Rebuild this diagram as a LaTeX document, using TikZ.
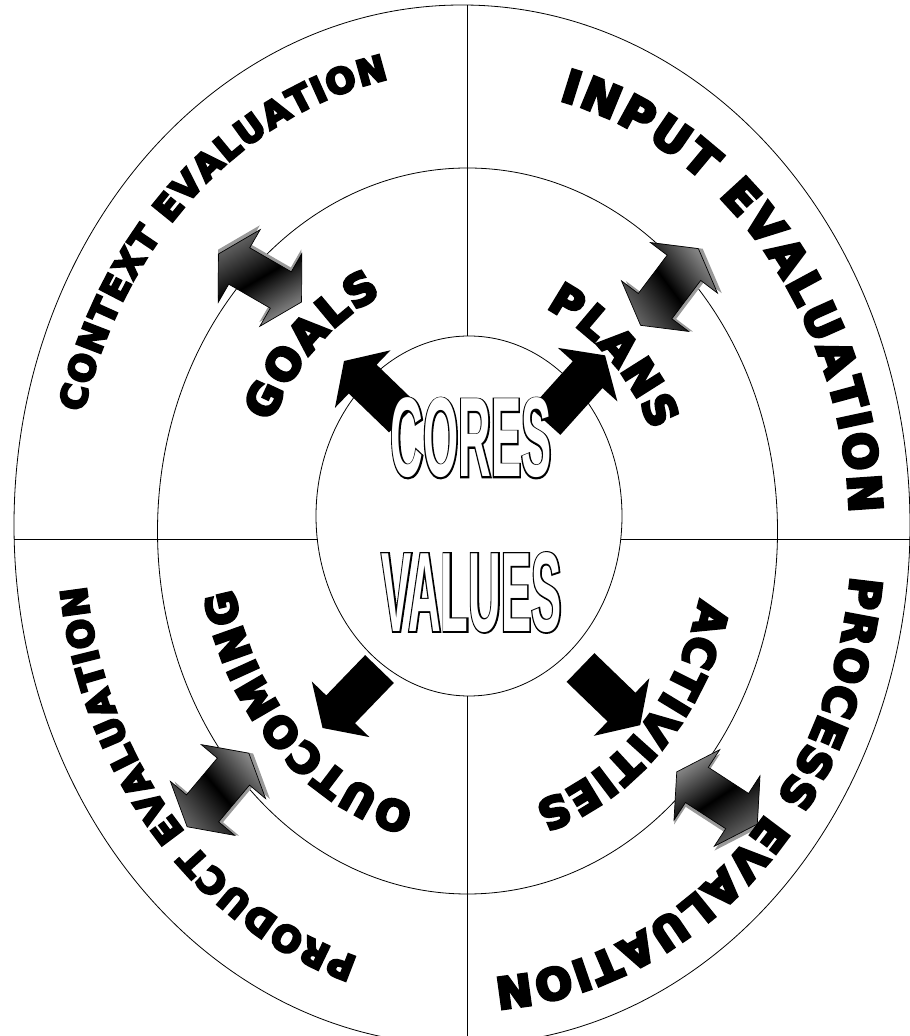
\documentclass[tikz,border=0pt]{standalone}
\usepackage{fontspec}
\usetikzlibrary{decorations.text}
\newfontfamily\ringfont{DejaVu Sans Bold}[FakeBold=7]
\newfontfamily\corefont{Liberation Sans Bold}[FakeStretch=0.4]
\newfontfamily\corerimfont{Liberation Sans Bold}[FakeStretch=0.4, FakeBold=2.5]
\newcommand\arcfont[1]{\ringfont\fontsize{#1}{#1}\selectfont}
\newcommand\contextsize{\arcfont{35}}
\newcommand\inputsize{\arcfont{45}}
\newcommand\processsize{\arcfont{43}}
\newcommand\productsize{\arcfont{35.5}}
\newcommand\goalsize{\arcfont{43}}
\newcommand\plansize{\arcfont{42.5}}
\newcommand\outsize{\arcfont{41}}
\newcommand\actsize{\arcfont{42}}

\begin{document}
\begin{tikzpicture}[x=1pt, y=1pt]
  \tikzset{
    ring/.style={draw=black, line width=0.8pt},
    divider/.style={draw=black, line width=0.8pt},
    blockarrow/.style={fill=black},
    twinarrow/.style={draw=black, line width=0.7pt, top color=black!45, bottom color=black!60, middle color=black},
    twinshadow/.style={fill=black!40},
    arctext/.style={decorate, decoration={text along path, text align=fit to path, text={#1}}},
    coretext/.style={font=\corefont\fontsize{113}{113}\selectfont, inner sep=0pt},
    corerim/.style={font=\corerimfont\fontsize{113}{113}\selectfont, inner sep=0pt}
  }
  \useasboundingbox (0,0) rectangle (910,1036);
  \fill[white] (0,0) rectangle (910,1036);

  \coordinate (mid) at (467,506);

  \draw[ring] (469,520) ellipse [x radius=153, y radius=180];
  \draw[ring] (467.5,505) ellipse [x radius=310, y radius=363];
  \begin{scope}
    \clip (0,0) rectangle (910,1036);
    \draw[ring] (462,511) ellipse [x radius=448, y radius=520];
  \end{scope}

  \coordinate (outN) at (467,1031);
  \coordinate (inN) at (467,700);
  \coordinate (inS) at (467,340);
  \coordinate (outS) at (467,0);
  \coordinate (outW) at (14,497);
  \coordinate (inW) at (318,497);
  \coordinate (inE) at (621,497);
  \coordinate (outE) at (910,497);
  \draw[divider] (outN) -- (inN);
  \draw[divider] (inS) -- (outS);
  \draw[divider] (outW) -- (inW);
  \draw[divider] (inE) -- (outE);

  \foreach \px/\py/\ang in {260/758/150, 669.5/749/53, 218/246/50, 717/238/-33} {
    \begin{scope}[shift={(\px,\py)}, rotate=\ang]
      \fill[twinshadow, shift={(2.5,-3.5)}] (-48,0) -- (-24,42) -- (-24,21) -- (24,21) -- (24,42) -- (48,0)
        -- (24,-42) -- (24,-21) -- (-24,-21) -- (-24,-42) -- cycle;
      \path[twinarrow, shading angle=-\ang] (-48,0) -- (-24,42) -- (-24,21) -- (24,21) -- (24,42) -- (48,0)
        -- (24,-42) -- (24,-21) -- (-24,-21) -- (-24,-42) -- cycle;
    \end{scope}
  }

  \foreach \px/\py/\ang/\len in {403/618/136/82, 545.5/614.5/48/89, 379.5/367/226/82, 580.5/368.5/-44/83} {
    \begin{scope}[shift={(\px,\py)}, rotate=\ang]
      \fill[blockarrow] (0,-20) -- ({\len-26},-20) -- ({\len-26},-40) -- (\len,0)
        -- ({\len-26},40) -- ({\len-26},20) -- (0,20) -- cycle;
    \end{scope}
  }

  \path[arctext={|\contextsize|CONTEXT EVALUATION}] ([shift={(165.2:397 and 460)}]mid)
    arc[start angle=165.2, end angle=101.4, x radius=397, y radius=460];
  \path[arctext={|\inputsize|INPUT EVALUATION}] ([shift={(76.1:383 and 443)}]mid)
    arc[start angle=76.1, end angle=2.2, x radius=383, y radius=443];
  \path[arctext={|\processsize|PROCESS EVALUATION}] ([shift={(-5.9:386 and 449)}]mid)
    arc[start angle=-5.9, end angle=-85.9, x radius=386, y radius=449];
  \path[arctext={|\productsize|PRODUCT EVALUATION}] ([shift={(253.5:384 and 446)}]mid)
    arc[start angle=253.5, end angle=187.2, x radius=384, y radius=446];

  \path[arctext={|\goalsize|GOALS}] ([shift={(155.1:216 and 256)}]mid)
    arc[start angle=155.1, end angle=113.3, x radius=216, y radius=256];
  \path[arctext={|\plansize|PLANS}] ([shift={(67.1:203 and 241)}]mid)
    arc[start angle=67.1, end angle=24.4, x radius=203, y radius=241];
  \path[arctext={|\outsize|OUTCOMING}] ([shift={(257.3:239 and 283)}]mid)
    arc[start angle=257.3, end angle=192, x radius=239, y radius=283];
  \path[arctext={|\actsize|ACTIVITIES}] ([shift={(-14.1:240 and 285)}]mid)
    arc[start angle=-14.1, end angle=-73.7, x radius=240, y radius=285];

  \coordinate (coresc) at (471,598);
  \coordinate (valuesc) at (471.5,443.5);
  \node[corerim, text=black] (coresrim) at (coresc) {CORES};
  \node[corerim, text=black] (valuesrim) at (valuesc) {VALUES};
  \node[coretext, text=white] (cores) at (coresc) {CORES};
  \node[coretext, text=white] (values) at (valuesc) {VALUES};
\end{tikzpicture}
\end{document}
